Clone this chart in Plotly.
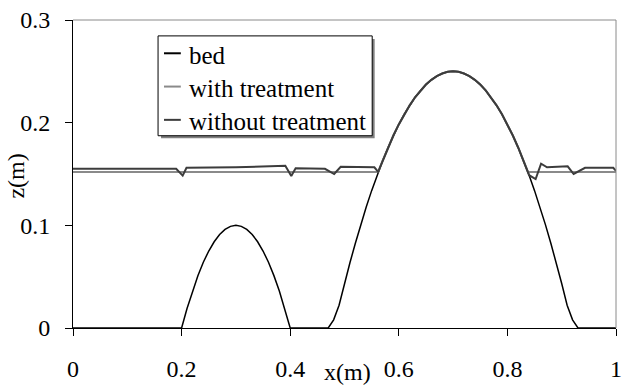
import plotly.graph_objects as go

# ---- data ----
bed_x = [0.00, 0.20, 0.21, 0.22, 0.23, 0.24, 0.25, 0.26, 0.27, 0.28, 0.29, 0.30,
         0.31, 0.32, 0.33, 0.34, 0.35, 0.36, 0.37, 0.38, 0.39, 0.40,
         0.47, 0.48, 0.49, 0.50, 0.51, 0.52, 0.53, 0.54, 0.55, 0.56, 0.57, 0.58,
         0.59, 0.60, 0.61, 0.62, 0.63, 0.64, 0.65, 0.66, 0.67, 0.68, 0.69, 0.70,
         0.71, 0.72, 0.73, 0.74, 0.75, 0.76, 0.77, 0.78, 0.79, 0.80, 0.81, 0.82,
         0.83, 0.84, 0.85, 0.86, 0.87, 0.88, 0.89, 0.90, 0.91, 0.92, 0.93, 1.00]
bed_z = [0.000, 0.000, 0.019, 0.036, 0.051, 0.064, 0.075, 0.084, 0.091, 0.096, 0.099, 0.100,
         0.099, 0.096, 0.091, 0.084, 0.075, 0.064, 0.051, 0.036, 0.019, 0.000,
         0.000, 0.008, 0.0222, 0.0434, 0.0635, 0.0826, 0.1007, 0.1178, 0.1338, 0.1488, 0.1627, 0.1756,
         0.1875, 0.1983, 0.2082, 0.2169, 0.2247, 0.2314, 0.2371, 0.2417, 0.2454, 0.2479, 0.2495, 0.2500,
         0.2495, 0.2479, 0.2454, 0.2417, 0.2371, 0.2314, 0.2247, 0.2169, 0.2082, 0.1983, 0.1875, 0.1756,
         0.1627, 0.1488, 0.1338, 0.1178, 0.1007, 0.0826, 0.0635, 0.0434, 0.0222, 0.008, 0.000, 0.000]

with_x = [0.00, 0.562, 0.57, 0.58, 0.59, 0.60, 0.61, 0.62, 0.63, 0.64, 0.65, 0.66, 0.67,
          0.68, 0.69, 0.70, 0.71, 0.72, 0.73, 0.74, 0.75, 0.76, 0.77, 0.78, 0.79,
          0.80, 0.81, 0.82, 0.83, 0.838, 1.00]
with_z = [0.152, 0.152, 0.1627, 0.1756, 0.1875, 0.1983, 0.2082, 0.2169, 0.2247, 0.2314, 0.2371,
          0.2417, 0.2454, 0.2479, 0.2495, 0.2500, 0.2495, 0.2479, 0.2454, 0.2417, 0.2371,
          0.2314, 0.2247, 0.2169, 0.2082, 0.1983, 0.1875, 0.1756, 0.1627, 0.152, 0.152]

without_x = [0.00, 0.19, 0.202, 0.209, 0.30, 0.391, 0.402, 0.41, 0.464, 0.481, 0.493,
             0.555, 0.562, 0.57, 0.58, 0.59, 0.60, 0.61, 0.62, 0.63, 0.64, 0.65, 0.66,
             0.67, 0.68, 0.69, 0.70, 0.71, 0.72, 0.73, 0.74, 0.75, 0.76, 0.77, 0.78,
             0.79, 0.80, 0.81, 0.82, 0.83, 0.84, 0.852, 0.862, 0.873, 0.911, 0.922,
             0.943, 0.995, 1.00]
without_z = [0.155, 0.155, 0.1484, 0.156, 0.1565, 0.158, 0.148, 0.1555, 0.155, 0.150, 0.157,
             0.1565, 0.152, 0.1627, 0.1756, 0.1875, 0.1983, 0.2082, 0.2169, 0.2247, 0.2314,
             0.2371, 0.2417, 0.2454, 0.2479, 0.2495, 0.2500, 0.2495, 0.2479, 0.2454, 0.2417,
             0.2371, 0.2314, 0.2247, 0.2169, 0.2082, 0.1983, 0.1875, 0.1756, 0.1627, 0.1488,
             0.145, 0.160, 0.1565, 0.1575, 0.150, 0.156, 0.156, 0.153]

x_ticks = [0, 0.2, 0.4, 0.6, 0.8, 1]
x_tick_text = ["0", "0.2", "0.4", "0.6", "0.8", "1"]
y_ticks = [0, 0.1, 0.2, 0.3]
y_tick_text = ["0", "0.1", "0.2", "0.3"]

series_names = ["bed", "with treatment", "without treatment"]
series_colors = ["#000000", "#8a8a8a", "#3c3c3c"]
series_widths = [1.5, 2, 2]

FONT = "Liberation Serif, Times New Roman, serif"
W, H = 627, 387
ML, MR, MT, MB = 73, 5, 20, 57
PW, PH = W - ML - MR, H - MT - MB


def px_x(p):
    return (p - ML) / PW


def px_y(p):
    return (H - MB - p) / PH


fig = go.Figure()
for xs, zs, name, col, wd in zip([bed_x, with_x, without_x], [bed_z, with_z, without_z],
                                 series_names, series_colors, series_widths):
    fig.add_trace(go.Scatter(x=xs, y=zs, mode="lines", name=name,
                             line=dict(color=col, width=wd), showlegend=False))

axis_common = dict(showgrid=False, zeroline=False, showline=True, linecolor="black",
                   linewidth=1, ticks="outside", ticklen=7, tickcolor="black",
                   ticklabeloverflow="allow",
                   tickfont=dict(family=FONT, size=24, color="black"))
fig.update_xaxes(range=[0, 1], tickvals=x_ticks, ticktext=x_tick_text,
                 ticklabelstandoff=12, **axis_common)
fig.update_yaxes(range=[0, 0.3], tickvals=y_ticks, ticktext=y_tick_text,
                 ticklabelstandoff=10, **axis_common)

shapes = [
    # top and right frame in gray
    dict(type="line", xref="paper", yref="paper", x0=0, x1=1, y0=1, y1=1,
         line=dict(color="#8a8a8a", width=1)),
    dict(type="line", xref="paper", yref="paper", x0=1, x1=1, y0=0, y1=1,
         line=dict(color="#8a8a8a", width=1)),
    # legend shadow and box
    dict(type="rect", xref="paper", yref="paper", x0=px_x(162), x1=px_x(378),
         y0=px_y(139), y1=px_y(39), fillcolor="#808080", line=dict(width=0)),
    dict(type="rect", xref="paper", yref="paper", x0=px_x(159), x1=px_x(375.5),
         y0=px_y(136.5), y1=px_y(36), fillcolor="white", line=dict(color="black", width=1)),
]
annotations = []
legend_rows = [53.5, 87, 120.5]
for yy, name, col in zip(legend_rows, series_names, series_colors):
    shapes.append(dict(type="line", xref="paper", yref="paper", x0=px_x(165), x1=px_x(182),
                       y0=px_y(yy), y1=px_y(yy), line=dict(color=col, width=2)))
    annotations.append(dict(text=name, xref="paper", yref="paper", x=px_x(188), y=px_y(yy + 2),
                            xanchor="left", yanchor="middle", showarrow=False,
                            font=dict(family=FONT, size=25, color="black")))

annotations.append(dict(text="x(m)", xref="paper", yref="paper", x=px_x(351), y=px_y(374),
                        xanchor="center", yanchor="middle", showarrow=False,
                        font=dict(family=FONT, size=24, color="black")))
annotations.append(dict(text="z(m)", xref="paper", yref="paper", x=px_x(15), y=px_y(177),
                        xanchor="center", yanchor="middle", showarrow=False, textangle=-90,
                        font=dict(family=FONT, size=24, color="black")))

fig.update_layout(width=W, height=H, margin=dict(l=ML, r=MR, t=MT, b=MB),
                  paper_bgcolor="white", plot_bgcolor="white", showlegend=False,
                  shapes=shapes, annotations=annotations)

fig.write_html("out.html")
